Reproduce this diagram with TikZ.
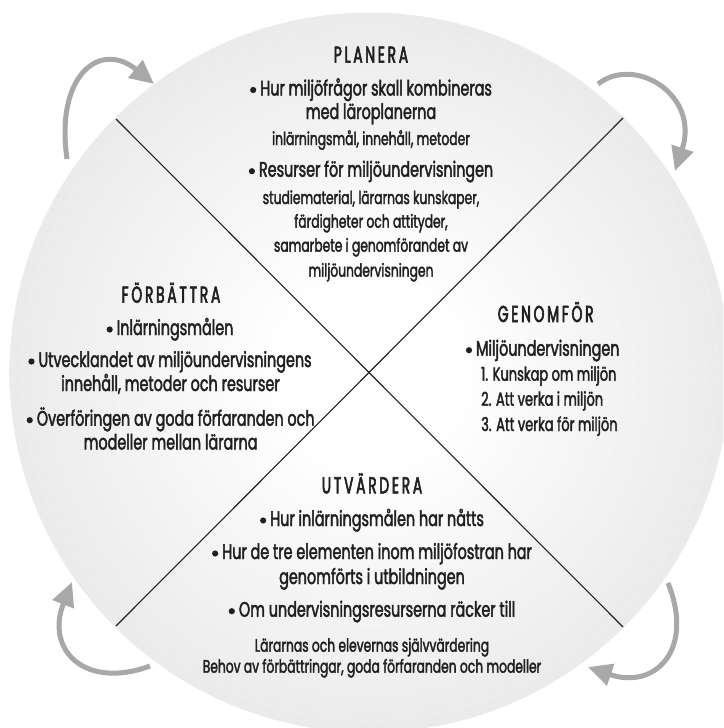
\documentclass[tikz,border=0pt]{standalone}
\usepackage{fontspec}
\setmainfont{Poppins}[FakeStretch=0.684,FakeBold=2]
\newfontfamily\headfont{Poppins}[FakeStretch=0.6,FakeBold=2.5,LetterSpace=12]
\usetikzlibrary{arrows.meta}
\definecolor{discgray}{HTML}{CFD0D2}
\definecolor{arrowgray}{HTML}{A7A8AA}
\definecolor{ink}{HTML}{231F20}
\pgfdeclareradialshading{disc}{\pgfpoint{0bp}{0bp}}{color(0bp)=(white); color(6bp)=(white); color(50bp)=(discgray)}
\newcommand{\bul}{\tikz[baseline=-5.5pt]\fill[ink] (0,0) circle (3.1pt);\hspace{4pt}}
\tikzset{
  head/.style={anchor=base, text=ink, font=\headfont\fontsize{23}{23}\selectfont, inner sep=0pt},
  main/.style={anchor=base, text=ink, font=\fontsize{21}{21}\selectfont, inner sep=0pt},
  sub/.style={anchor=base, text=ink, font=\fontsize{18}{18}\selectfont, inner sep=0pt},
  item/.style={anchor=base west, text=ink, font=\fontsize{19}{19}\selectfont, inner sep=0pt},
  cyc/.style={draw=arrowgray, line width=5pt, -{Triangle[length=24pt,width=22pt]}},
  divider/.style={draw=ink, line width=1.1pt}
}
\begin{document}
\begin{tikzpicture}[x=1pt,y=-1pt]
\useasboundingbox (0,0) rectangle (723,728);
\clip (0,0) rectangle (723,728);
\coordinate (c) at (369.5,372.5);
\shade[shading=disc] (c) circle (360);
\foreach \r in {12,24,...,360} \draw[white,opacity=0.25,line width=0.4pt] (c) circle (\r);
% dividers
\coordinate (tl) at (116,119);
\coordinate (br) at (623,627);
\coordinate (tr) at (623,118);
\coordinate (bl) at (116,626);
\draw[divider] (tl) -- (br);
\draw[divider] (tr) -- (bl);
% cycle arrows
\coordinate (a1s) at (67,159);   \coordinate (a1e) at (154,84);
\coordinate (a2s) at (598,84);   \coordinate (a2e) at (675,171);
\coordinate (a3s) at (668,583);  \coordinate (a3e) at (588,667);
\coordinate (a4s) at (150,666);  \coordinate (a4e) at (72,582);
\draw[cyc] (a1s) .. controls (55,75) and (100,40) .. (a1e);
\draw[cyc] (a2s) .. controls (635,55) and (700,95) .. (a2e);
\draw[cyc] (a3s) .. controls (695,650) and (655,690) .. (a3e);
\draw[cyc] (a4s) .. controls (85,690) and (45,650) .. (a4e);
% PLANERA
\node[head] (ph) at (371,62.7) {PLANERA};
\node[main] (p1) at (371,95.5) {\bul Hur miljöfrågor skall kombineras};
\node[main] (p2) at (371,119) {med läroplanerna};
\node[sub]  (p3) at (371,145) {inlärningsmål, innehåll, metoder};
\node[main] (p4) at (371,176.7) {\bul Resurser för miljöundervisningen};
\node[sub]  (p5) at (371,204) {studiematerial, lärarnas kunskaper,};
\node[sub]  (p6) at (371,227.7) {färdigheter och attityder,};
\node[sub]  (p7) at (371,251.7) {samarbete i genomförandet av};
\node[sub]  (p8) at (371,276.7) {miljöundervisningen};
% FÖRBÄTTRA
\node[head] (fh) at (171,302.7) {FÖRBÄTTRA};
\node[main] (f1) at (170,335) {\bul Inlärningsmålen};
\node[main] (f2) at (170,367) {\bul Utvecklandet av miljöundervisningens};
\node[main] (f3) at (170.5,391) {innehåll, metoder och resurser};
\node[main] (f4) at (170.6,425.7) {\bul Överföringen av goda förfaranden och};
\node[main] (f5) at (170.6,449.5) {modeller mellan lärarna};
% GENOMFÖR
\node[head] (gh) at (545.7,322) {GENOMFÖR};
\node[main,anchor=base west] (g1) at (465.7,355.7) {\bul Miljöundervisningen};
\node[item] (g2) at (481,380.7) {1. Kunskap om miljön};
\node[item] (g3) at (481,405.7) {2. Att verka i miljön};
\node[item] (g4) at (481,431) {3. Att verka för miljön};
% UTVÄRDERA
\node[head] (uh) at (372,493.3) {UTVÄRDERA};
\node[main] (u1) at (372,526) {\bul Hur inlärningsmålen har nåtts};
\node[main] (u2) at (372,559) {\bul Hur de tre elementen inom miljöfostran har};
\node[main] (u3) at (372,584) {genomförts i utbildningen};
\node[main] (u4) at (372,616.7) {\bul Om undervisningsresurserna räcker till};
\node[sub]  (u5) at (372,651.7) {Lärarnas och elevernas självvärdering};
\node[sub]  (u6) at (372,672.7) {Behov av förbättringar, goda förfaranden och modeller};
\end{tikzpicture}
\end{document}
